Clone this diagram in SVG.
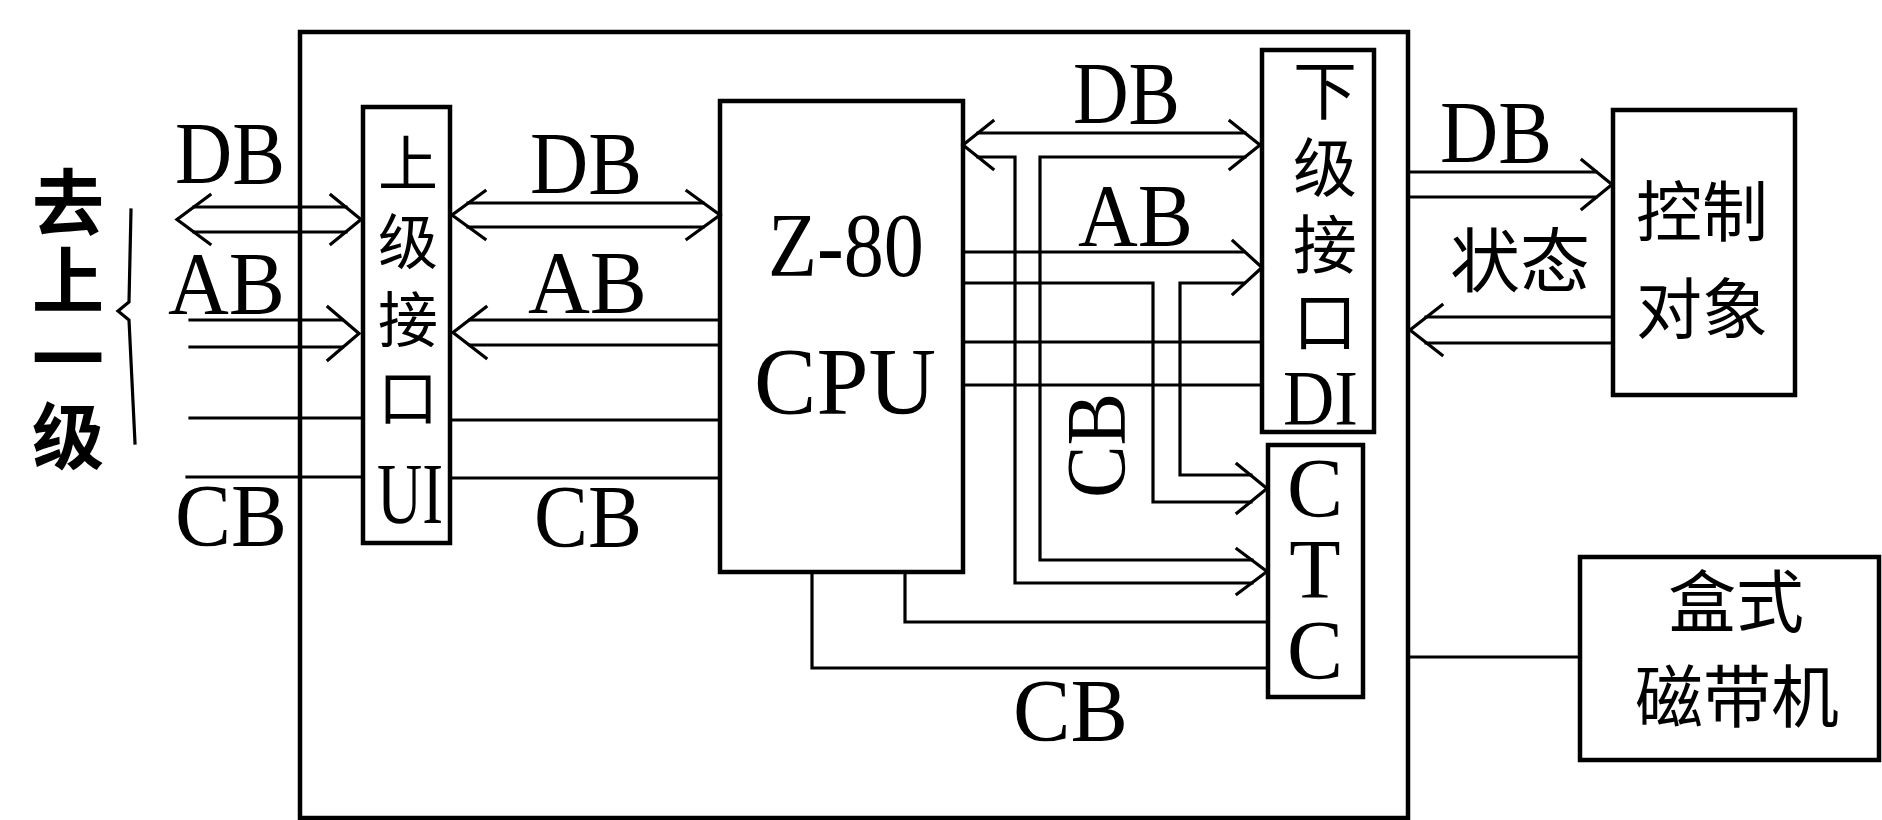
<svg xmlns="http://www.w3.org/2000/svg" width="1882" height="820" viewBox="0 0 1882 820">
<style>
.box{fill:none;stroke:#000;stroke-width:4.5}
.ln{fill:none;stroke:#000;stroke-width:3.2;stroke-linecap:square}
.lat{font-family:"Liberation Serif","Times New Roman",serif;fill:#000}
.cjk{font-family:"Noto Sans CJK SC","Noto Sans CJK JP",sans-serif;fill:#000;text-anchor:middle}
.vert{font-family:"Noto Sans CJK SC","Noto Sans CJK JP",sans-serif;fill:#000;writing-mode:vertical-rl}
</style>
<rect width="1882" height="820" fill="#fff"/>

<g id="system">
<rect class="box" x="300" y="32" width="1108" height="786"/>
</g>

<g id="upper-level">
<text class="vert" x="68" y="166" font-size="72" font-weight="bold" letter-spacing="6">去上一级</text>
<path class="ln" d="M131,210 L129,302 L118,311 L129,320 L135,443"/>
</g>

<g id="UI">
<rect class="box" x="363" y="107" width="87" height="436"/>
<text class="vert" x="408" y="133" font-size="60" letter-spacing="18">上级接口</text>
<text class="lat" x="377" y="523" font-size="86" textLength="66" lengthAdjust="spacingAndGlyphs">UI</text>
</g>

<g id="CPU">
<rect class="box" x="720" y="101" width="243" height="471"/>
<text class="lat" x="768" y="276" font-size="90" textLength="156" lengthAdjust="spacingAndGlyphs">Z-80</text>
<text class="lat" x="754" y="414" font-size="95" textLength="182" lengthAdjust="spacingAndGlyphs">CPU</text>
</g>

<g id="DI">
<rect class="box" x="1262" y="50" width="112" height="382"/>
<text class="vert" x="1325" y="58" font-size="64" letter-spacing="13">下级接口</text>
<text class="lat" x="1283" y="424" font-size="78" textLength="75" lengthAdjust="spacingAndGlyphs">DI</text>
</g>

<g id="CTC">
<rect class="box" x="1268" y="445" width="95" height="252"/>
<text class="lat" x="1315" y="442" font-size="84" style="writing-mode:vertical-rl;text-orientation:upright" letter-spacing="-12">CTC</text>
</g>

<g id="control-object">
<rect class="box" x="1613" y="110" width="182" height="285"/>
<text class="cjk" x="1702" y="236" font-size="66">控制</text>
<text class="cjk" x="1702" y="333" font-size="66">对象</text>
</g>

<g id="tape-recorder">
<rect class="box" x="1580" y="557" width="299" height="203"/>
<text class="cjk" x="1736" y="627" font-size="68">盒式</text>
<text class="cjk" x="1737" y="722" font-size="68">磁带机</text>
</g>

<g id="connectors">
<!-- upper level <-> UI -->
<path class="ln" d="M194,207 H346 M194,232 H346"/>
<path class="ln" d="M210,195 L177,219.5 L210,244 M331,195 L361,219.5 L331,244"/>
<path class="ln" d="M190,320 H342 M190,347 H342"/>
<path class="ln" d="M328,307 L359,333.5 L328,360"/>
<path class="ln" d="M190,418 H363"/>
<path class="ln" d="M187,477 H363"/>

<!-- UI <-> CPU -->
<path class="ln" d="M468,203 H703 M468,227 H703"/>
<path class="ln" d="M485,191 L452,215 L485,239 M687,191 L720,215 L687,239"/>
<path class="ln" d="M470,320 H720 M470,345 H720"/>
<path class="ln" d="M486,307 L453,332.5 L486,358"/>
<path class="ln" d="M450,420 H720"/>
<path class="ln" d="M450,478 H720"/>

<!-- CPU <-> DI, DB with branch to CTC -->
<path class="ln" d="M978,133 H1245 M978,157 H1015 V583 H1252 M1040,157 H1245 M1040,157 V560 H1252"/>
<path class="ln" d="M993,121 L963,145 L993,169 M1230,121 L1260,145 L1230,169"/>
<path class="ln" d="M1237,549 L1267,571.5 L1237,594"/>

<!-- CPU -> DI, AB with branch to CTC -->
<path class="ln" d="M963,252 H1244 M963,283 H1153 V502 H1251 M1180,283 H1244 M1180,283 V475 H1251"/>
<path class="ln" d="M1233,241 L1262,267.5 L1233,294"/>
<path class="ln" d="M1237,464 L1267,488.5 L1237,513"/>

<!-- CB CPU -> DI -->
<path class="ln" d="M963,342 H1262"/>
<path class="ln" d="M963,385 H1262" stroke-width="4.2"/>

<!-- CB CPU bottom -> CTC -->
<path class="ln" d="M812,572 V668 H1268"/>
<path class="ln" d="M905,572 V622 H1268"/>

<!-- DI side <-> control object -->
<path class="ln" d="M1408,172 H1596 M1408,197 H1596"/>
<path class="ln" d="M1582,160 L1612,184.5 L1582,209"/>
<path class="ln" d="M1426,317 H1613 M1426,343 H1613"/>
<path class="ln" d="M1442,305 L1410,330 L1442,355"/>

<!-- system -> tape recorder -->
<path class="ln" d="M1408,657 H1580"/>
</g>

<g id="labels">
<text class="lat" x="175" y="183" font-size="88" textLength="110" lengthAdjust="spacingAndGlyphs">DB</text>
<text class="lat" x="168" y="313" font-size="88" textLength="117" lengthAdjust="spacingAndGlyphs">AB</text>
<text class="lat" x="175" y="545" font-size="88" textLength="112" lengthAdjust="spacingAndGlyphs">CB</text>
<text class="lat" x="530" y="193" font-size="88" textLength="112" lengthAdjust="spacingAndGlyphs">DB</text>
<text class="lat" x="528" y="312" font-size="88" textLength="119" lengthAdjust="spacingAndGlyphs">AB</text>
<text class="lat" x="534" y="546" font-size="88" textLength="108" lengthAdjust="spacingAndGlyphs">CB</text>
<text class="lat" x="1073" y="123" font-size="88" textLength="107" lengthAdjust="spacingAndGlyphs">DB</text>
<text class="lat" x="1078" y="245" font-size="88" textLength="115" lengthAdjust="spacingAndGlyphs">AB</text>
<text class="lat" transform="translate(1125,498) rotate(-90)" font-size="84" textLength="105" lengthAdjust="spacingAndGlyphs">CB</text>
<text class="lat" x="1013" y="740" font-size="88" textLength="115" lengthAdjust="spacingAndGlyphs">CB</text>
<text class="lat" x="1440" y="162" font-size="88" textLength="112" lengthAdjust="spacingAndGlyphs">DB</text>
<text class="cjk" x="1520" y="287" font-size="70">状态</text>
</g>
</svg>
